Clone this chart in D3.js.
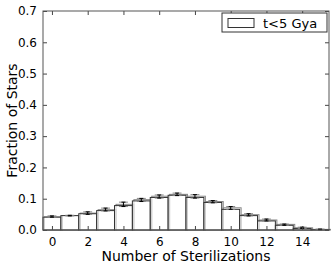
<!DOCTYPE html>
<html lang="en">
<head>
<meta charset="UTF-8">
<title>Sterilizations</title>
<script src="https://d3js.org/d3.v7.min.js"></script>
<style>
  body { margin: 0; background: #fff; }
  text { font-family: "DejaVu Sans", sans-serif; fill: #000; }
</style>
</head>
<body>
<svg width="333" height="268" id="svg1"></svg>
<script>
// data
var counts = d3.range(0, 16);
var fraction = [0.041, 0.046, 0.052, 0.062, 0.078, 0.093, 0.104, 0.111, 0.104, 0.088, 0.066, 0.046, 0.029, 0.015, 0.005, 0.001];
var fractionAlt = [0.042, 0.046, 0.054, 0.065, 0.082, 0.097, 0.108, 0.114, 0.108, 0.091, 0.071, 0.049, 0.032, 0.018, 0.007, 0.002];
var errLow = [0.041, 0.045, 0.050, 0.061, 0.075, 0.091, 0.102, 0.110, 0.102, 0.087, 0.066, 0.045, 0.029, 0.015, 0.005, 0.001];
var errHigh = [0.045, 0.047, 0.058, 0.070, 0.089, 0.101, 0.112, 0.118, 0.113, 0.094, 0.075, 0.052, 0.035, 0.019, 0.009, 0.003];
var xTicks = [0, 2, 4, 6, 8, 10, 12, 14];
var yTicks = [0, 0.1, 0.2, 0.3, 0.4, 0.5, 0.6, 0.7];
var legendLabel = "t<5 Gya";

var svg = d3.select("#svg1"),
    plotL = 43, plotR = 329, plotT = 11, plotB = 230;

var x = d3.scaleLinear().domain([-0.5, 15.5]).range([plotL, plotR]),
    y = d3.scaleLinear().domain([0, 0.7]).range([plotB, plotT]);

// gray outline histogram, slightly offset
svg.append("g").selectAll("rect")
    .data(counts)
    .enter().append("rect")
    .attr("x", function (d) { return x(d - 0.5) + 1.5; })
    .attr("y", function (d) { return y(fractionAlt[d]); })
    .attr("width", x(1) - x(0))
    .attr("height", function (d) { return y(0) - y(fractionAlt[d]); })
    .attr("fill", "none")
    .attr("stroke", "#888")
    .attr("stroke-width", 1);

svg.append("g").selectAll("rect")
    .data(counts)
    .enter().append("rect")
    .attr("x", function (d) { return x(d - 0.5); })
    .attr("y", function (d) { return y(fraction[d]); })
    .attr("width", x(1) - x(0))
    .attr("height", function (d) { return y(0) - y(fraction[d]); })
    .attr("fill", "#fff")
    .attr("fill-opacity", 0.6)
    .attr("stroke", "#333")
    .attr("stroke-width", 1);

// error bars
var eb = svg.append("g").selectAll("g")
    .data(counts)
    .enter().append("g");
eb.append("line")
    .attr("x1", function (d) { return x(d - 0.25); })
    .attr("x2", function (d) { return x(d + 0.25); })
    .attr("y1", function (d) { return y(errLow[d]); })
    .attr("y2", function (d) { return y(errLow[d]); })
    .attr("stroke", "#888");
eb.append("line")
    .attr("x1", function (d) { return x(d - 0.25); })
    .attr("x2", function (d) { return x(d + 0.25); })
    .attr("y1", function (d) { return y(errHigh[d]); })
    .attr("y2", function (d) { return y(errHigh[d]); })
    .attr("stroke", "#888");
eb.append("line")
    .attr("x1", function (d) { return x(d); })
    .attr("x2", function (d) { return x(d); })
    .attr("y1", function (d) { return y(errLow[d]); })
    .attr("y2", function (d) { return y(errHigh[d]); })
    .attr("stroke", "#000");
eb.append("line")
    .attr("x1", function (d) { return x(d) - 2; })
    .attr("x2", function (d) { return x(d) + 2; })
    .attr("y1", function (d) { return y(errLow[d]); })
    .attr("y2", function (d) { return y(errLow[d]); })
    .attr("stroke", "#000");
eb.append("line")
    .attr("x1", function (d) { return x(d) - 2; })
    .attr("x2", function (d) { return x(d) + 2; })
    .attr("y1", function (d) { return y(errHigh[d]); })
    .attr("y2", function (d) { return y(errHigh[d]); })
    .attr("stroke", "#000");

// axes with inward ticks on all sides
function styleAxis(g) {
    g.select(".domain").remove();
    g.selectAll(".tick line").attr("stroke", "#444");
    g.selectAll(".tick text").attr("font-size", "12px").attr("font-family", "DejaVu Sans");
}
svg.append("g")
    .attr("transform", "translate(0," + plotB + ")")
    .call(d3.axisBottom(x).tickValues(xTicks).tickSize(-4).tickPadding(7).tickFormat(d3.format("d")))
    .call(styleAxis);
svg.append("g")
    .attr("transform", "translate(0," + plotT + ")")
    .call(d3.axisTop(x).tickValues(xTicks).tickSize(-4).tickFormat(""))
    .call(styleAxis);
svg.append("g")
    .attr("transform", "translate(" + plotL + ",0)")
    .call(d3.axisLeft(y).tickValues(yTicks).tickSize(-4).tickPadding(6).tickFormat(d3.format(".1f")))
    .call(styleAxis);
svg.append("g")
    .attr("transform", "translate(" + plotR + ",0)")
    .call(d3.axisRight(y).tickValues(yTicks).tickSize(-4).tickFormat(""))
    .call(styleAxis);

svg.append("rect")
    .attr("x", plotL).attr("y", plotT)
    .attr("width", plotR - plotL).attr("height", plotB - plotT)
    .attr("fill", "none").attr("stroke", "#555").attr("stroke-width", 1);

// labels
svg.append("text")
    .attr("x", (plotL + plotR) / 2).attr("y", 261)
    .attr("text-anchor", "middle").attr("font-size", "14px")
    .text("Number of Sterilizations");
svg.append("text")
    .attr("transform", "translate(17," + (plotT + plotB) / 2 + ") rotate(-90)")
    .attr("text-anchor", "middle").attr("font-size", "14px")
    .text("Fraction of Stars");

// legend
var lg = svg.append("g");
lg.append("rect")
    .attr("x", 222).attr("y", 13).attr("width", 105).attr("height", 19)
    .attr("fill", "#fff").attr("stroke", "#333");
lg.append("rect")
    .attr("x", 228).attr("y", 18.5).attr("width", 26).attr("height", 9)
    .attr("fill", "#fff").attr("stroke", "#333");
lg.append("text")
    .attr("x", 263).attr("y", 27.5).attr("font-size", "13px")
    .text(legendLabel);
</script>
</body>
</html>
